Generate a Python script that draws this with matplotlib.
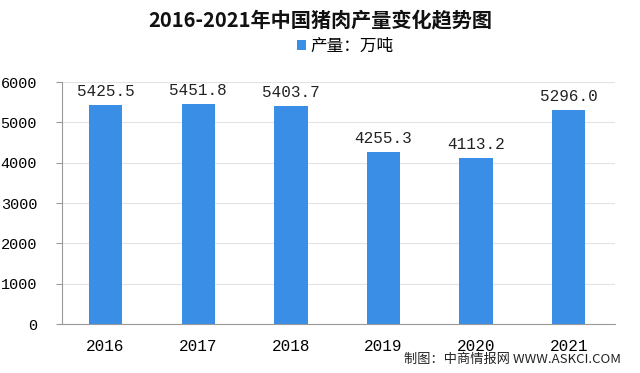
import numpy as np
import matplotlib.pyplot as plt

plt.rcParams['font.family'] = ['Noto Sans CJK SC', 'DejaVu Sans']

years = ['2016', '2017', '2018', '2019', '2020', '2021']
output = [5425.5, 5451.8, 5403.7, 4255.3, 4113.2, 5296.0]
bar_color = '#3a8ee6'
num_font = ['Liberation Mono', 'DejaVu Sans Mono']

fig = plt.figure(figsize=(6.4, 3.73), dpi=100)
ax = fig.add_axes([0.097, 0.131, 0.864, 0.649])

x = np.arange(len(years))
ax.bar(x, output, width=0.36, color=bar_color, zorder=3, label='产量：万吨')
for xi, v in zip(x, output):
    ax.text(xi, v + 150, f'{v:.1f}', ha='center', va='bottom',
            fontsize=11.5, family=num_font, color='#222222')

ax.set_xlim(-0.47, len(years) - 0.5)
ax.set_ylim(0, 6000)
ax.set_yticks(range(0, 6001, 1000))
ax.set_xticks(x)
ax.set_xticklabels(years, family=num_font, fontsize=11.5)
for lab in ax.get_yticklabels():
    lab.set_family(num_font)
    lab.set_fontsize(11)
ax.grid(axis='y', color='#e3e3e3', linewidth=0.8, zorder=0)
for s in ['top', 'right']:
    ax.spines[s].set_visible(False)
for s in ['left', 'bottom']:
    ax.spines[s].set_color('#999999')
ax.tick_params(axis='y', length=4, color='#999999', pad=14)
ax.tick_params(axis='x', length=0, pad=11)

fig.text(0.5, 0.948, '2016-2021年中国猪肉产量变化趋势图', ha='center', va='center',
         fontsize=14.5, fontweight='bold', color='#111111')
fig.legend(loc='center', bbox_to_anchor=(0.54, 0.876), frameon=False,
           fontsize=12, handlelength=0.5, handleheight=0.5, handletextpad=0.3)
fig.text(0.97, 0.035, '制图：中商情报网 WWW.ASKCI.COM', ha='right', va='center',
         fontsize=9.5, color='#222222')

fig.savefig('out.png', dpi=100)
